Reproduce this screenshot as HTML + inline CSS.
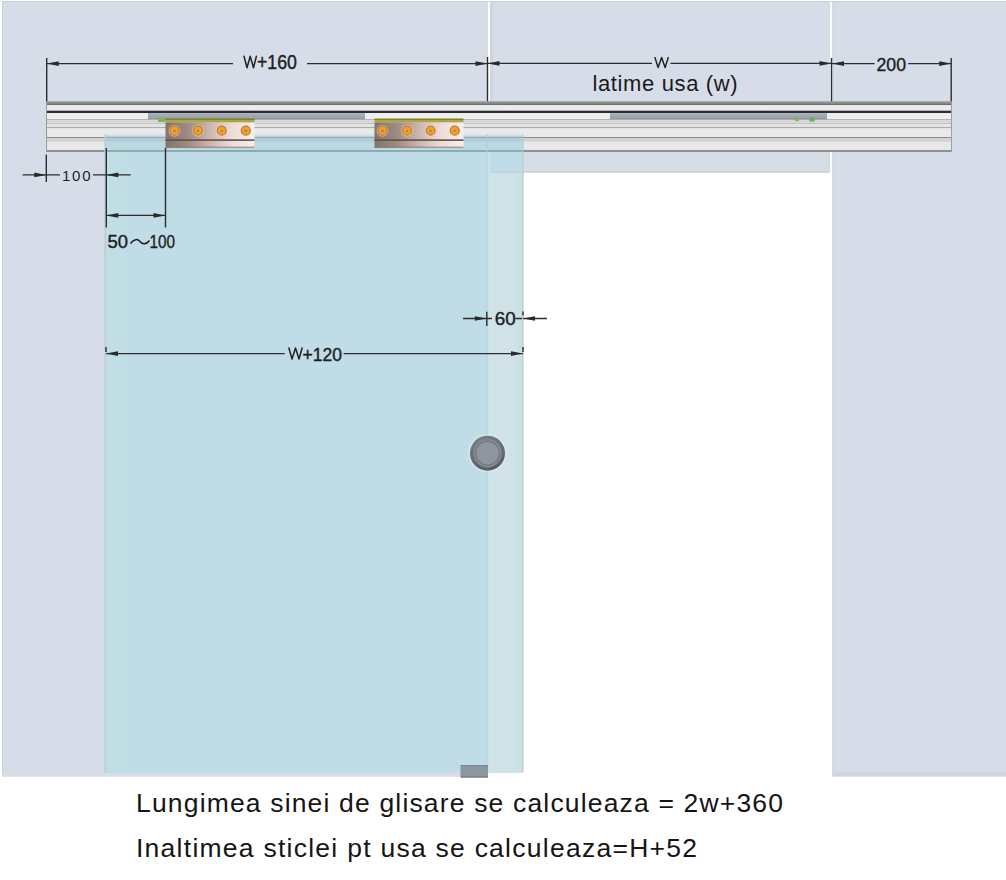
<!DOCTYPE html>
<html><head><meta charset="utf-8">
<style>
html,body{margin:0;padding:0;background:#fff;width:1006px;height:880px;overflow:hidden}
svg{display:block;font-family:"Liberation Sans",sans-serif}
</style></head>
<body>
<svg width="1006" height="880" viewBox="0 0 1006 880">
<defs>
  <linearGradient id="carr" x1="0" y1="0" x2="1" y2="0">
    <stop offset="0" stop-color="#84746c"/>
    <stop offset="0.25" stop-color="#9e8a82"/>
    <stop offset="0.5" stop-color="#cdb6b0"/>
    <stop offset="0.75" stop-color="#eedcda"/>
    <stop offset="1" stop-color="#f6f0ee"/>
  </linearGradient>
  <linearGradient id="railtop" x1="0" y1="0" x2="0" y2="1">
    <stop offset="0" stop-color="#a4a6a8"/>
    <stop offset="0.5" stop-color="#8a8c8e"/>
    <stop offset="1" stop-color="#5e6062"/>
  </linearGradient>
  <linearGradient id="track" x1="0" y1="0" x2="0" y2="1">
    <stop offset="0" stop-color="#abb1b7"/>
    <stop offset="0.75" stop-color="#9ca3aa"/>
    <stop offset="1" stop-color="#858c93"/>
  </linearGradient>
  <linearGradient id="gtop" x1="0" y1="0" x2="0" y2="1">
    <stop offset="0" stop-color="#e4e4ea"/>
    <stop offset="1" stop-color="#bcd6de"/>
  </linearGradient>
  <linearGradient id="hring" x1="0.3" y1="0" x2="0.6" y2="1">
    <stop offset="0" stop-color="#767d86"/>
    <stop offset="1" stop-color="#555c64"/>
  </linearGradient>
  <radialGradient id="bolt" cx="0.5" cy="0.5" r="0.5">
    <stop offset="0" stop-color="#e89a20"/>
    <stop offset="0.6" stop-color="#eea232"/>
    <stop offset="0.8" stop-color="#c98a3c"/>
    <stop offset="1" stop-color="#d8b8a0" stop-opacity="0.6"/>
  </radialGradient>
</defs>

<!-- wall (left) -->
<rect x="2" y="1" width="486" height="775.5" fill="#d7dde8"/>
<rect x="2" y="1" width="1004" height="1" fill="#c9d0da"/>
<rect x="2" y="1" width="1" height="775.5" fill="#c9d0da"/>
<!-- transom above opening -->
<rect x="490" y="1" width="340" height="171.5" fill="#d7dde8"/>
<rect x="490" y="1" width="3" height="171.5" fill="#d0d5dc"/>
<rect x="490" y="151" width="340" height="21.5" fill="#d4dde5"/>
<rect x="490" y="171.5" width="340" height="1" fill="#c6d0d8"/>
<!-- right wall -->
<rect x="832.5" y="1" width="173.5" height="775.5" fill="#d7dde8"/>
<rect x="832.5" y="1" width="1" height="775.5" fill="#c8ced8"/>
<rect x="833" y="772.5" width="173" height="4" fill="#d0d4e0"/>
<rect x="2" y="772.8" width="486" height="3.7" fill="#dadce6"/>
<rect x="2" y="1" width="1004" height="1" fill="#c9d0da"/>

<!-- rail -->
<g>
  <rect x="46" y="101.1" width="906" height="51" fill="#e8e8e8"/>
  <rect x="46" y="101.1" width="906" height="4.1" fill="url(#railtop)"/>
  <rect x="46" y="105.2" width="906" height="5.5" fill="#ececec"/>
  <rect x="46" y="110.7" width="906" height="2.4" fill="#2a2e34"/>
  <rect x="46" y="113.1" width="906" height="6.4" fill="#eeeeee"/>
  <rect x="148" y="113.1" width="217" height="6.4" fill="url(#track)"/>
  <rect x="610" y="113.1" width="217" height="6.4" fill="url(#track)"/>
  <rect x="46" y="119" width="906" height="0.8" fill="#9a9a9a"/>
  <rect x="46" y="119.8" width="906" height="3.5" fill="#d8d8d8"/>
  <rect x="46" y="123.3" width="906" height="0.8" fill="#b8b8b8"/>
  <rect x="46" y="124.1" width="906" height="2.9" fill="#e4e4e4"/>
  <rect x="46" y="127" width="906" height="1.3" fill="#ababab"/>
  <rect x="46" y="128.3" width="906" height="8.7" fill="#e9e9e9"/>
  <rect x="46" y="137" width="906" height="1.1" fill="#8a8a8a"/>
  <rect x="46" y="138.1" width="906" height="3.6" fill="#d2d2d2"/>
  <rect x="46" y="141.7" width="906" height="0.7" fill="#dedede"/>
  <rect x="46" y="142.4" width="906" height="7.6" fill="#e8e8e8"/>
  <rect x="46" y="150" width="906" height="2" fill="#8e9092"/>
  <rect x="46" y="101.1" width="1" height="51" fill="#9a9a9a"/>
  <rect x="951" y="101.1" width="1" height="51" fill="#a0a0a0"/>
  <circle cx="797" cy="119.5" r="2" fill="#78b85a"/>
  <rect x="809.5" y="117.5" width="5" height="4" fill="#66b050"/>
  <rect x="158" y="118" width="7.5" height="4" fill="#7ab460"/>
</g>

<!-- glass -->
<rect x="104.7" y="152" width="418.3" height="620.8" fill="#c0dde7"/>
<rect x="104.7" y="134.3" width="418.3" height="17.7" fill="#bcd9e2"/>
<rect x="104.7" y="134.3" width="418.3" height="3" fill="url(#gtop)"/>
<rect x="104.7" y="136.8" width="418.3" height="1.4" fill="#8fb0b8"/>
<rect x="104.7" y="138.2" width="418.3" height="3.5" fill="#b0ccd6"/>
<rect x="104.7" y="141.7" width="418.3" height="8.3" fill="#bcd9e2"/>
<rect x="104.7" y="150" width="418.3" height="2" fill="#8cadb6"/>
<rect x="490" y="172.5" width="3" height="599.8" fill="#cce5ea"/>
<rect x="493" y="172.5" width="21" height="599.8" fill="#d0e2e8"/>
<rect x="514" y="172.5" width="4" height="599.8" fill="#cae3e9"/>
<rect x="518" y="172.5" width="4.5" height="599.8" fill="#cfdfe0"/>
<rect x="486.5" y="134.3" width="1" height="638.5" fill="#aecad2"/>
<rect x="487.5" y="152" width="2.5" height="620.8" fill="#c9e3e8"/>
<rect x="522.5" y="134.3" width="1" height="638" fill="#b4c6c8"/>
<rect x="106" y="152" width="19" height="620.8" fill="#c1dee4"/>
<rect x="104.5" y="134.3" width="1.6" height="638.5" fill="#b6d0d8"/>
<rect x="490" y="171.5" width="33" height="1" fill="#b8d0d8"/>
<!-- carriages -->
<g>
  <rect x="165.5" y="118.7" width="89" height="3.8" fill="#a8a83c"/>
  <rect x="165.5" y="118.7" width="89" height="1" fill="#6e6e26"/>
  <rect x="165.5" y="122.5" width="89" height="25.2" fill="url(#carr)"/>
  <rect x="165.5" y="139.3" width="89" height="1.6" fill="#5e5048"/>
  <rect x="165.5" y="146.7" width="89" height="1" fill="#8a7a74"/>
  <rect x="374.5" y="118.7" width="89" height="3.8" fill="#a8a83c"/>
  <rect x="374.5" y="118.7" width="89" height="1" fill="#6e6e26"/>
  <rect x="374.5" y="122.5" width="89" height="25.2" fill="url(#carr)"/>
  <rect x="374.5" y="139.3" width="89" height="1.6" fill="#5e5048"/>
  <rect x="374.5" y="146.7" width="89" height="1" fill="#8a7a74"/>
  <circle cx="174.5" cy="130.7" r="6" fill="#f6e4d4" fill-opacity="0.5"/><circle cx="174.5" cy="130.7" r="4.5" fill="#eba232" stroke="#c47a2e" stroke-width="1.2"/><circle cx="174.5" cy="130.9" r="1.3" fill="#c8842c"/><circle cx="198" cy="130.7" r="6" fill="#f6e4d4" fill-opacity="0.5"/><circle cx="198" cy="130.7" r="4.5" fill="#eba232" stroke="#c47a2e" stroke-width="1.2"/><circle cx="198" cy="130.9" r="1.3" fill="#c8842c"/><circle cx="221.7" cy="130.7" r="6" fill="#f6e4d4" fill-opacity="0.5"/><circle cx="221.7" cy="130.7" r="4.5" fill="#eba232" stroke="#c47a2e" stroke-width="1.2"/><circle cx="221.7" cy="130.9" r="1.3" fill="#c8842c"/><circle cx="245.8" cy="130.7" r="6" fill="#f6e4d4" fill-opacity="0.5"/><circle cx="245.8" cy="130.7" r="4.5" fill="#eba232" stroke="#c47a2e" stroke-width="1.2"/><circle cx="245.8" cy="130.9" r="1.3" fill="#c8842c"/><circle cx="382.5" cy="130.7" r="6" fill="#f6e4d4" fill-opacity="0.5"/><circle cx="382.5" cy="130.7" r="4.5" fill="#eba232" stroke="#c47a2e" stroke-width="1.2"/><circle cx="382.5" cy="130.9" r="1.3" fill="#c8842c"/><circle cx="407" cy="130.7" r="6" fill="#f6e4d4" fill-opacity="0.5"/><circle cx="407" cy="130.7" r="4.5" fill="#eba232" stroke="#c47a2e" stroke-width="1.2"/><circle cx="407" cy="130.9" r="1.3" fill="#c8842c"/><circle cx="430.6" cy="130.7" r="6" fill="#f6e4d4" fill-opacity="0.5"/><circle cx="430.6" cy="130.7" r="4.5" fill="#eba232" stroke="#c47a2e" stroke-width="1.2"/><circle cx="430.6" cy="130.9" r="1.3" fill="#c8842c"/><circle cx="454.7" cy="130.7" r="6" fill="#f6e4d4" fill-opacity="0.5"/><circle cx="454.7" cy="130.7" r="4.5" fill="#eba232" stroke="#c47a2e" stroke-width="1.2"/><circle cx="454.7" cy="130.9" r="1.3" fill="#c8842c"/>
</g>

<!-- handle -->
<circle cx="487.5" cy="453.2" r="19.5" fill="#dcecf0" fill-opacity="0.5"/>
<circle cx="487.5" cy="453.2" r="17.5" fill="url(#hring)"/>
<circle cx="487.5" cy="453.2" r="14.2" fill="#858c94"/>
<circle cx="487.5" cy="453.2" r="12.6" fill="#737a83"/>
<circle cx="487.5" cy="453.2" r="11.2" fill="#8f949d"/>

<!-- floor guide -->
<rect x="460.5" y="765" width="27.5" height="12.5" rx="1" fill="#8c969e"/>
<rect x="460.5" y="765" width="27.5" height="1" fill="#7a848c"/>
<rect x="460.5" y="776.5" width="27.5" height="1" fill="#68727a"/>

<!-- dimension lines -->
<g stroke="#2c2c2e" stroke-width="1.4" fill="none">
  <path d="M46.7 58V101.2M487.5 57V101.2M831.5 58V101.2M951.2 58V101.2"/>
  <path d="M47 63.6H233M307 63.6H487.5"/>
  <path d="M487.5 63.4H652M670.5 63.4H831.5"/>
  <path d="M832 63.6H874.6M908.2 63.6H951"/>
  <path d="M46.3 154.5V182M22.6 174.9H60M93 174.9H130.7"/>
  <path d="M106.3 148V227.6M165.5 148V227.6M106.3 215.4H165.5"/>
  <path d="M463 318.5H492M486.8 311.8V326M515.5 318.5H522M523 318.5H547M523 311.5V315.5"/>
  <path d="M106 353.6H284.7M343.6 353.6H523M106 347V352M523 347V352"/>
</g>
<g fill="#2a2a2a">
  <path d="M46.7 63.6l12-2.3v4.6z"/><path d="M487.5 63.6l-12-2.3v4.6z"/>
  <path d="M487.5 63.4l12-2.3v4.6z"/><path d="M831.5 63.4l-12-2.3v4.6z"/>
  <path d="M832 63.6l12-2.3v4.6z"/><path d="M951.2 63.6l-12-2.3v4.6z"/>
  <path d="M46.3 174.9l-12-2.3v4.6z"/><path d="M106.3 174.9l12-2.3v4.6z"/>
  <path d="M106.3 215.4l12-2.3v4.6z"/><path d="M165.5 215.4l-12-2.3v4.6z"/>
  <path d="M486.8 318.5l-12-2.3v4.6z"/><path d="M523 318.5l12-2.3v4.6z"/>
  <path d="M106 353.6l12-2.3v4.6z"/><path d="M523 353.6l-12-2.3v4.6z"/>
</g>
<g fill="#1e1e1e" stroke="#1e1e1e" stroke-width="0.4">
  <text x="257" y="69" font-size="19.5" textLength="40" lengthAdjust="spacingAndGlyphs">+160</text>
  
  <text x="876.5" y="70.9" font-size="18.5" textLength="29.5" lengthAdjust="spacingAndGlyphs">200</text>
  <text x="62" y="180.6" font-size="15" stroke-width="0" textLength="28.5" lengthAdjust="spacing">100</text>
  <text x="107.6" y="248.3" font-size="18.5" textLength="20.5" lengthAdjust="spacingAndGlyphs">50</text>
  <text x="149.5" y="248.3" font-size="18.5" textLength="25.5" lengthAdjust="spacingAndGlyphs">100</text>
  <text x="494.7" y="324.5" font-size="18.5" textLength="21" lengthAdjust="spacingAndGlyphs">60</text>
  <text x="302.5" y="360.8" font-size="18.5" textLength="39.5" lengthAdjust="spacingAndGlyphs">+120</text>
</g>
<path d="M655 57.6L658.1 67.6L661.6 57.6L665.1 67.6L668.2 57.6M244 56.2L247 67.8L250.2 56.2L253.5 67.8L256.4 56.2M288.9 348L292 359L295.5 348L299 359L302.1 348" stroke="#222" stroke-width="1.5" fill="none" stroke-linejoin="round" stroke-linecap="round"/>
<path d="M130.5 243.5C134 239 137.5 238.5 140 241.5C142.5 244.5 146 245 149.5 240.5" stroke="#1e1e1e" stroke-width="1.5" fill="none"/>
<text x="592.5" y="91.4" font-size="22" fill="#1a1a1a" textLength="145" lengthAdjust="spacing">latime usa (w)</text>
<text x="136" y="811.8" font-size="26.5" fill="#151515" textLength="647" lengthAdjust="spacing">Lungimea sinei de glisare se calculeaza = 2w+360</text>
<text x="136" y="856.8" font-size="26.5" fill="#151515" textLength="561" lengthAdjust="spacing">Inaltimea sticlei pt usa se calculeaza=H+52</text>
</svg>
</body></html>
